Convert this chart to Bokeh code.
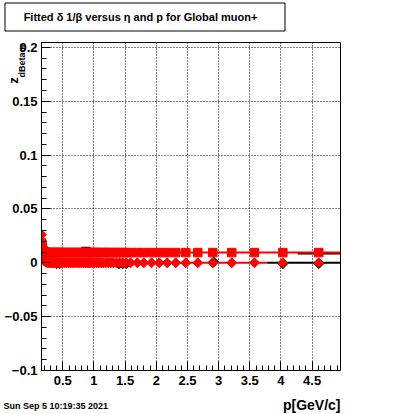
import math
from bokeh.plotting import figure
from bokeh.models import Range1d, FixedTicker, GridBox
from bokeh.core.properties import value
from bokeh.embed import file_html
from bokeh.resources import INLINE

# ---------------- data ----------------
p_vals = [0.158, 0.160, 0.162, 0.164, 0.166, 0.168, 0.171, 0.175, 0.180, 0.186,
          0.193, 0.200, 0.210, 0.220, 0.235, 0.250,
          0.27, 0.29, 0.31, 0.33, 0.35, 0.37, 0.39, 0.41, 0.43, 0.45,
          0.47, 0.50, 0.53, 0.56, 0.59, 0.62, 0.65, 0.68, 0.71, 0.74,
          0.77, 0.80, 0.83, 0.86, 0.89, 0.92, 0.95, 0.98, 1.01, 1.045,
          1.08, 1.115, 1.15, 1.19, 1.23, 1.27, 1.31, 1.36, 1.41, 1.46, 1.52,
          1.588, 1.696, 1.80, 1.923, 2.047, 2.175, 2.312, 2.473, 2.665, 2.906,
          3.21, 3.575, 4.03, 4.606]

dz_square = [0.0183, 0.017, 0.0155, 0.0145, 0.0138, 0.013, 0.0124, 0.0118, 0.0113, 0.0108,
             0.0104, 0.0101, 0.0099, 0.0097, 0.0096, 0.0095,
             0.0095, 0.0095, 0.0095, 0.0095, 0.0095, 0.0095, 0.0095, 0.0095, 0.0095, 0.0095,
             0.0095, 0.0095, 0.0095, 0.0095, 0.0095, 0.0095, 0.0095, 0.0095, 0.0095, 0.0095,
             0.0095, 0.0095, 0.0095, 0.0095, 0.0095, 0.0095, 0.0095, 0.0095, 0.0095, 0.0095,
             0.0095, 0.0095, 0.0095, 0.0095, 0.0095, 0.0095, 0.0095, 0.0095, 0.0095, 0.0095, 0.0095,
             0.0095, 0.0095, 0.0095, 0.0095, 0.0095, 0.0095, 0.0095, 0.0095, 0.0095, 0.0095,
             0.0095, 0.0095, 0.0095, 0.0095]

dz_diamond = [0.026, 0.020, 0.016, 0.013, 0.011, 0.009, 0.0075, 0.006, 0.0048, 0.0038,
              0.003, 0.0022, 0.0015, 0.001, 0.0005, 0.0002,
              0.0, 0.0, 0.0, 0.0, 0.0, 0.0, 0.0, 0.0, 0.0, 0.0,
              0.0, 0.0, 0.0, 0.0, 0.0, 0.0, 0.0, 0.0, 0.0, 0.0,
              0.0, 0.0, 0.0, 0.0, 0.0, 0.0, 0.0, 0.0, 0.0, 0.0,
              0.0, 0.0, 0.0, 0.0, 0.0, 0.0, 0.0, 0.0, 0.0, 0.0, 0.0,
              0.0, 0.0, 0.0, 0.0, 0.0, 0.0, 0.0, 0.0, 0.0, 0.0,
              0.0, 0.0, 0.0, 0.0]

# black markers partly hidden behind the red ones
black_dia_p = [0.40, 0.45, 1.40, 1.46, 1.52, 2.92, 4.03, 4.606]
black_dia_z = [-0.0008, -0.0008, -0.0010, -0.0010, -0.0008, 0.0008, -0.0008, -0.0008]
black_sq_p = [0.87]
black_sq_z = [0.0105]

# red fit lines and black bars: (p_start, p_end, z)
red_line_p0 = [0.25, 0.25]
red_line_p1 = [4.955, 3.78]
red_line_z = [0.0095, 0.0]
black_line_p0 = [4.27, 3.78]
black_line_p1 = [4.955, 4.955]
black_line_z = [0.0086, 0.0]

x_ticks = [0.5, 1.0, 1.5, 2.0, 2.5, 3.0, 3.5, 4.0, 4.5]
x_tick_labels = ["0.5", "1", "1.5", "2", "2.5", "3", "3.5", "4", "4.5"]
y_ticks = [-0.1, -0.05, 0.0, 0.05, 0.1, 0.15, 0.2]
y_tick_labels = ["\u22120.1", "\u22120.05", "0", "0.05", "0.1", "0.15", "0.2"]

title_text = "Fitted \u03b4 1/\u03b2 versus \u03b7 and p for Global muon+"
x_title = "p[GeV/c]"
y_title = "z"
y_title_sub = "dBetaor"
date_text = "Sun Sep  5 10:19:35 2021"

FONT = "Liberation Sans"
W, H = 400, 414

# ---------------- main figure ----------------
p = figure(width=W, height=H, output_backend="svg", toolbar_location=None,
           x_range=Range1d(0.158, 4.955), y_range=Range1d(-0.1, 0.2046),
           min_border_left=41, min_border_right=60, min_border_top=42, min_border_bottom=44)
p.background_fill_color = "white"
p.border_fill_color = "white"
p.outline_line_color = "black"
p.outline_line_width = 1
p.outline_line_alpha = 1.0

x_minor = [round(0.2 + 0.1 * i, 2) for i in range(48)]
y_minor = [round(-0.1 + 0.01 * i, 3) for i in range(31)]
p.xaxis.ticker = FixedTicker(ticks=x_ticks, minor_ticks=x_minor)
p.yaxis.ticker = FixedTicker(ticks=y_ticks, minor_ticks=y_minor)
p.xaxis.major_label_overrides = dict(zip(x_ticks, x_tick_labels))
p.yaxis.major_label_overrides = dict(zip(y_ticks, y_tick_labels))

for ax in (p.xaxis[0], p.yaxis[0]):
    ax.axis_line_color = "black"
    ax.axis_line_width = 1
    ax.major_tick_in = 9
    ax.major_tick_out = 0
    ax.minor_tick_in = 5
    ax.minor_tick_out = 0
    ax.major_tick_line_color = "black"
    ax.minor_tick_line_color = "black"
    ax.major_label_text_font = FONT
    ax.major_label_text_font_style = "bold"
    ax.major_label_text_color = "black"
    ax.major_label_text_font_size = "13px"
p.xaxis.major_label_standoff = 5
p.yaxis.major_label_standoff = 4

p.xgrid.ticker = FixedTicker(ticks=x_ticks)
p.ygrid.ticker = FixedTicker(ticks=y_ticks)
for g in (p.xgrid[0], p.ygrid[0]):
    g.grid_line_color = "black"
    g.grid_line_dash = "1 2"
    g.grid_line_width = 1

# black lines & markers (underneath)
p.segment(black_line_p0, black_line_z, black_line_p1, black_line_z, line_color="black", line_width=2)
p.scatter(black_dia_p, black_dia_z, marker="square", angle=math.pi / 4, size=7,
          fill_color="black", line_color="black")
p.scatter(black_sq_p, black_sq_z, marker="square", size=8.5, fill_color="black", line_color="black")

# red fit lines and markers
p.segment(red_line_p0, red_line_z, red_line_p1, red_line_z, line_color="red", line_width=2)
p.scatter(p_vals, dz_square, marker="square", size=8.5, fill_color="red", line_color="red")
p.scatter(p_vals, dz_diamond, marker="square", angle=math.pi / 4, size=7,
          fill_color="red", line_color="red")

# ---------------- text overlay (canvas pixel coordinates, y downwards) ----------------
ov = figure(width=W, height=H, output_backend="svg", toolbar_location=None,
            x_range=Range1d(0, W), y_range=Range1d(H, 0),
            min_border=0, x_axis_type=None, y_axis_type=None)
ov.outline_line_color = None
ov.background_fill_alpha = 0
ov.border_fill_alpha = 0
for fig in (p, ov):
    if hasattr(fig, "frame_align"):
        fig.frame_align = False

# title box
ov.quad(left=[4.5], right=[284.5], top=[2.5], bottom=[30.5],
        fill_color="white", line_color="black", line_width=1)
ov.text(x=[140], y=[16.5], text=[title_text], text_font=value(FONT), text_font_style="bold",
        text_font_size="11px", text_align="center", text_baseline="middle", text_color="black")
# x-axis title
ov.text(x=[340], y=[404], text=[x_title], text_font=value(FONT), text_font_style="bold",
        text_font_size="14px", text_align="right", text_baseline="middle", text_color="black")
# date
ov.text(x=[3], y=[405.5], text=[date_text], text_font=value(FONT), text_font_style="bold",
        text_font_size="9px", text_align="left", text_baseline="middle", text_color="black")
# y-axis title (rotated)
ov.text(x=[13.3], y=[80], text=[y_title], text_font=value(FONT), text_font_style="bold",
        text_font_size="13px", text_align="center", text_baseline="middle", text_color="black",
        angle=math.pi / 2)
ov.text(x=[21.5], y=[77], text=[y_title_sub], text_font=value(FONT), text_font_style="bold",
        text_font_size="9px", text_align="left", text_baseline="middle", text_color="black",
        angle=math.pi / 2)

layout = GridBox(children=[(p, 0, 0), (ov, 0, 0)])
open("out.html", "w").write(file_html(layout, INLINE))
